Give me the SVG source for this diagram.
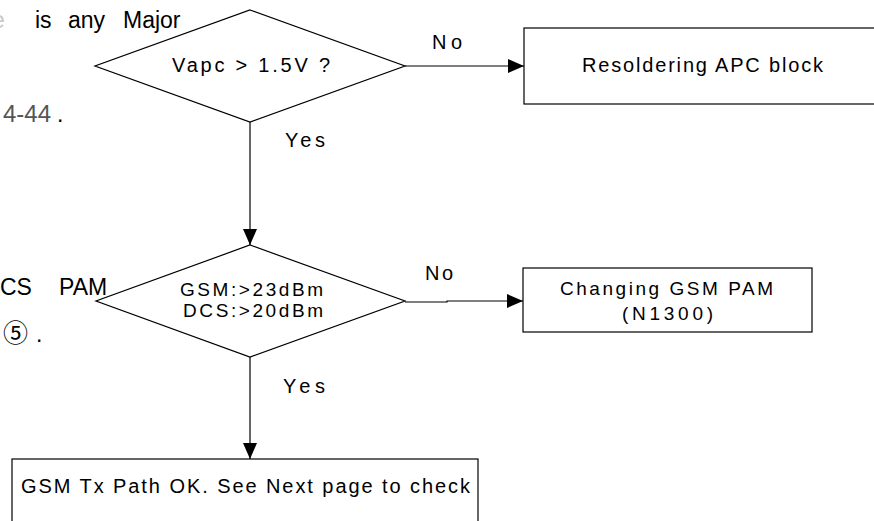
<svg xmlns="http://www.w3.org/2000/svg" width="874" height="521" viewBox="0 0 874 521">
<defs>
<style>
.t{font-family:"Liberation Sans",Arial,sans-serif;font-size:20px;fill:#000}
.s{font-size:19px}
.bg{font-family:"Liberation Sans",Arial,sans-serif;font-size:23px;fill:#000}
.shape{fill:#fff;stroke:#000;stroke-width:1.2}
.edge{fill:none;stroke:#000;stroke-width:1.2}
</style>
<marker id="arr" viewBox="0 0 16 14" refX="16" refY="7" markerWidth="16" markerHeight="14" markerUnits="userSpaceOnUse" orient="auto">
<path d="M0,0 L16,7 L0,14 Z" fill="#000"/>
</marker>
</defs>
<rect width="874" height="521" fill="#fff"/>
<g id="background-text">
<text class="bg" x="-8" y="28" style="fill:#c8c8c8">e</text>
<text class="bg" x="35" y="28">is</text>
<text class="bg" x="68" y="28">any</text>
<text class="bg" x="123" y="28">Major</text>
<text class="bg" x="3" y="122" style="fill:#555;font-size:24px">4-44</text>
<text class="bg" x="57" y="122">.</text>
<text class="bg" x="0" y="295">CS</text>
<text class="bg" x="59" y="295">PAM</text>
<text class="bg" x="3" y="342" style="font-size:25px;font-family:'Noto Sans CJK SC',sans-serif">⑤</text>
<text class="bg" x="36" y="342">.</text>
</g>
<g id="connectors">
<path class="edge" d="M250,122 V245" marker-end="url(#arr)"/>
<path class="edge" d="M405,66 H524" marker-end="url(#arr)"/>
<path class="edge" d="M405,302 H447 V301 H523" marker-end="url(#arr)"/>
<path class="edge" d="M250,357 V459" marker-end="url(#arr)"/>
<text class="t" x="432" y="49" textLength="30" lengthAdjust="spacing">No</text>
<text class="t" x="285" y="147" textLength="40" lengthAdjust="spacing">Yes</text>
<text class="t" x="425" y="280" textLength="28" lengthAdjust="spacing">No</text>
<text class="t" x="283" y="393" textLength="42" lengthAdjust="spacing">Yes</text>
</g>
<g id="decision-vapc">
<polygon class="shape" points="250,10 405,66 250,122 95,66"/>
<text class="t" x="172" y="72" textLength="158" lengthAdjust="spacing">Vapc &gt;  1.5V ?</text>
</g>
<g id="resoldering-apc">
<rect class="shape" x="524" y="28" width="360" height="76"/>
<text class="t" x="582" y="72" textLength="241" lengthAdjust="spacing">Resoldering APC block</text>
</g>
<g id="decision-power">
<polygon class="shape" points="250,245 405,301 250,357 96,301"/>
<text class="t s" x="180" y="296" textLength="143" lengthAdjust="spacing">GSM:&gt;23dBm</text>
<text class="t s" x="183" y="317" textLength="140" lengthAdjust="spacing">DCS:&gt;20dBm</text>
</g>
<g id="changing-pam">
<rect class="shape" x="523" y="268" width="289" height="64"/>
<text class="t s" x="560" y="295" textLength="213" lengthAdjust="spacing">Changing GSM PAM</text>
<text class="t s" x="622" y="320" textLength="91" lengthAdjust="spacing">(N1300)</text>
</g>
<g id="tx-path-ok">
<rect class="shape" x="12" y="459" width="466" height="80"/>
<text class="t" x="21" y="493" textLength="449" lengthAdjust="spacing">GSM Tx Path OK. See Next page to check</text>
</g>
</svg>
